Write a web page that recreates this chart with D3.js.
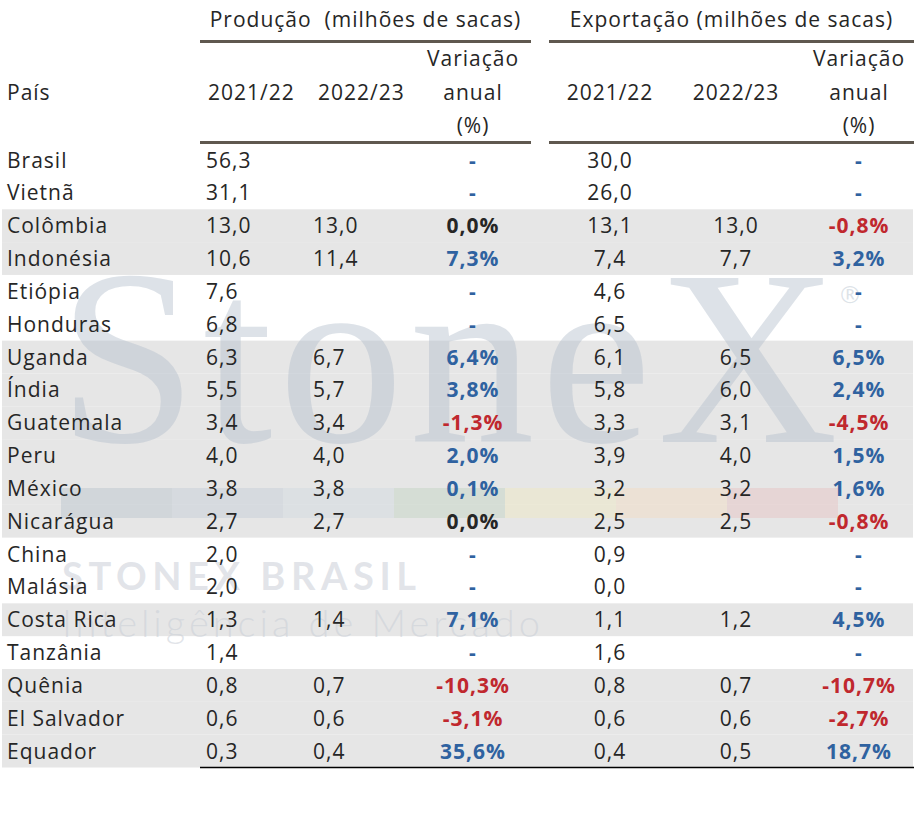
<!DOCTYPE html>
<html>
<head>
<meta charset="utf-8">
<script src="https://cdn.jsdelivr.net/npm/d3@7"></script>
<style>
  body { margin: 0; background: #fff; }
  svg { display: block; }
</style>
</head>
<body>
<div id="chart"></div>
<script>
// Table data
const countries = ['Brasil', 'Vietnã', 'Colômbia', 'Indonésia', 'Etiópia', 'Honduras', 'Uganda', 'Índia', 'Guatemala', 'Peru',
    'México', 'Nicarágua', 'China', 'Malásia', 'Costa Rica', 'Tanzânia', 'Quênia', 'El Salvador', 'Equador'];
const prod2122 = [56.3, 31.1, 13.0, 10.6, 7.6, 6.8, 6.3, 5.5, 3.4, 4.0, 3.8, 2.7, 2.0, 2.0, 1.3, 1.4, 0.8, 0.6, 0.3];
const prod2223 = [null, null, 13.0, 11.4, null, null, 6.7, 5.7, 3.4, 4.0, 3.8, 2.7, null, null, 1.4, null, 0.7, 0.6, 0.4];
const prodVar = [null, null, 0.0, 7.3, null, null, 6.4, 3.8, -1.3, 2.0, 0.1, 0.0, null, null, 7.1, null, -10.3, -3.1, 35.6];
const exp2122 = [30.0, 26.0, 13.1, 7.4, 4.6, 6.5, 6.1, 5.8, 3.3, 3.9, 3.2, 2.5, 0.9, 0.0, 1.1, 1.6, 0.8, 0.6, 0.4];
const exp2223 = [null, null, 13.0, 7.7, null, null, 6.5, 6.0, 3.1, 4.0, 3.2, 2.5, null, null, 1.2, null, 0.7, 0.6, 0.5];
const expVar = [null, null, -0.8, 3.2, null, null, 6.5, 2.4, -4.5, 1.5, 1.6, -0.8, null, null, 4.5, null, -10.7, -2.7, 18.7];
const groupLabels = ['Produção  (milhões de sacas)', 'Exportação (milhões de sacas)'];
const seasonLabels = ['2021/22', '2022/23'];
const varLabels = ['Variação', 'anual', '(%)'];
const countryLabel = 'País';

// Layout
const width = 915, height = 817;
const font = '"Open Sans", Lato, sans-serif';
const fontSize = 21;
const spacing = '1px';
const textColor = '#262626';
const blue = '#2f62a0', red = '#c0282e';
const bandColor = '#e6e6e6';
const ruleColor = '#5f584f';

const ptBR = d3.formatLocale({ decimal: ',', thousands: '.', grouping: [3], currency: ['R$', ''], minus: '-' });
const fmtNum = ptBR.format('.1f');
const fmtPct = v => fmtNum(v) + '%';

const svg = d3.select('#chart')
    .append('svg')
    .attr('width', width)
    .attr('height', height)
    .style('font-family', font);

// Rows
const y = d3.scaleBand()
    .domain(d3.range(countries.length))
    .range([143.6, 767.5]);

// Columns of the two groups
const groups = [
    { label: groupLabels[0], x0: 200, x1: 531, cols: [
        { values: prod2122, x: 206, anchor: 'start', head: 208 },
        { values: prod2223, x: 313, anchor: 'start', head: 318 },
        { values: prodVar, x: 473, anchor: 'middle', pct: true }
    ] },
    { label: groupLabels[1], x0: 549, x1: 914, cols: [
        { values: exp2122, x: 610, anchor: 'middle' },
        { values: exp2223, x: 736, anchor: 'middle' },
        { values: expVar, x: 859, anchor: 'middle', pct: true }
    ] }
];

// Shaded rows: the ones with a 2022/23 estimate
svg.append('g')
    .selectAll('rect')
    .data(d3.range(countries.length).filter(i => prod2223[i] != null))
    .join('rect')
    .attr('x', 2)
    .attr('y', i => y(i))
    .attr('width', 911)
    .attr('height', y.step())
    .attr('fill', bandColor);

// Watermark
const wm = svg.append('g').attr('class', 'watermark');
wm.append('text')
    .attr('x', 58)
    .attr('y', 442)
    .attr('textLength', 780)
    .style('font-family', '"Liberation Serif", "DejaVu Serif", serif')
    .style('font-size', '250px')
    .attr('fill', '#b4bfcc')
    .attr('fill-opacity', 0.45)
    .text('StoneX');
wm.append('text')
    .attr('x', 850)
    .attr('y', 303)
    .attr('text-anchor', 'middle')
    .style('font-size', '24px')
    .attr('fill', '#b4bfcc')
    .attr('fill-opacity', 0.45)
    .text('®');
const barColors = ['#b9c3cd', '#c3cdd6', '#d1d9e1', '#c2d2c2', '#f0e8c0', '#f3dcc0', '#e7c0c0'];
const barX = d3.scaleBand().domain(d3.range(barColors.length)).range([61, 838]);
wm.append('g')
    .selectAll('rect')
    .data(barColors)
    .join('rect')
    .attr('x', (d, i) => barX(i))
    .attr('y', 488)
    .attr('width', barX.bandwidth())
    .attr('height', 30)
    .attr('fill', d => d)
    .attr('fill-opacity', 0.45);
wm.append('text')
    .attr('x', 62)
    .attr('y', 590)
    .attr('textLength', 354)
    .style('font-family', 'Lato, sans-serif')
    .style('font-size', '38px')
    .style('font-weight', 'bold')
    .attr('fill', '#c9ced6')
    .attr('fill-opacity', 0.55)
    .text('STONEX BRASIL');
wm.append('text')
    .attr('x', 62)
    .attr('y', 637)
    .attr('textLength', 478)
    .style('font-family', 'Lato, sans-serif')
    .style('font-size', '38px')
    .style('font-weight', 300)
    .attr('fill', '#c9ced6')
    .attr('fill-opacity', 0.55)
    .text('Inteligência de Mercado');

// Header
const head = svg.append('g')
    .style('font-size', fontSize + 'px')
    .style('letter-spacing', spacing)
    .attr('fill', textColor);

groups.forEach(g => {
    head.append('text')
        .attr('x', (g.x0 + g.x1) / 2)
        .attr('y', 27)
        .attr('text-anchor', 'middle')
        .attr('xml:space', 'preserve')
        .text(g.label);

    [41.5, 142.5].forEach(ly => {
        head.append('line')
            .attr('x1', g.x0).attr('x2', g.x1)
            .attr('y1', ly).attr('y2', ly)
            .attr('stroke', ruleColor)
            .attr('stroke-width', 3);
    });

    g.cols.forEach((c, ci) => {
        if (c.pct) {
            varLabels.forEach((t, k) => {
                head.append('text')
                    .attr('x', c.x)
                    .attr('y', 66 + k * 33.5)
                    .attr('text-anchor', 'middle')
                    .text(t);
            });
        } else {
            head.append('text')
                .attr('x', c.head != null ? c.head : c.x)
                .attr('y', 99.5)
                .attr('text-anchor', c.head != null ? 'start' : 'middle')
                .text(seasonLabels[ci]);
        }
    });
});

head.append('text')
    .attr('x', 7)
    .attr('y', 99.5)
    .text(countryLabel);

// Body
const body = svg.append('g')
    .style('font-size', fontSize + 'px')
    .style('letter-spacing', spacing);

body.append('g')
    .selectAll('text')
    .data(countries)
    .join('text')
    .attr('x', 7)
    .attr('y', (d, i) => y(i) + y.step() / 2)
    .attr('dy', '0.36em')
    .attr('fill', textColor)
    .text(d => d);

groups.forEach(g => {
    g.cols.forEach(c => {
        body.append('g')
            .selectAll('text')
            .data(c.values.map((v, i) => ({ v, i })).filter(d => c.pct || d.v != null))
            .join('text')
            .attr('x', c.x)
            .attr('y', d => y(d.i) + y.step() / 2)
            .attr('dy', '0.36em')
            .attr('text-anchor', c.anchor)
            .style('font-weight', d => c.pct ? 'bold' : 'normal')
            .attr('fill', d => {
                if (!c.pct) return textColor;
                if (d.v == null) return blue;
                return d.v > 0 ? blue : d.v < 0 ? red : textColor;
            })
            .text(d => d.v == null ? '-' : c.pct ? fmtPct(d.v) : fmtNum(d.v));
    });
});

// Bottom rule
svg.append('line')
    .attr('x1', 200).attr('x2', 914)
    .attr('y1', 767.5).attr('y2', 767.5)
    .attr('stroke', '#000')
    .attr('stroke-width', 1.5);
</script>
</body>
</html>
